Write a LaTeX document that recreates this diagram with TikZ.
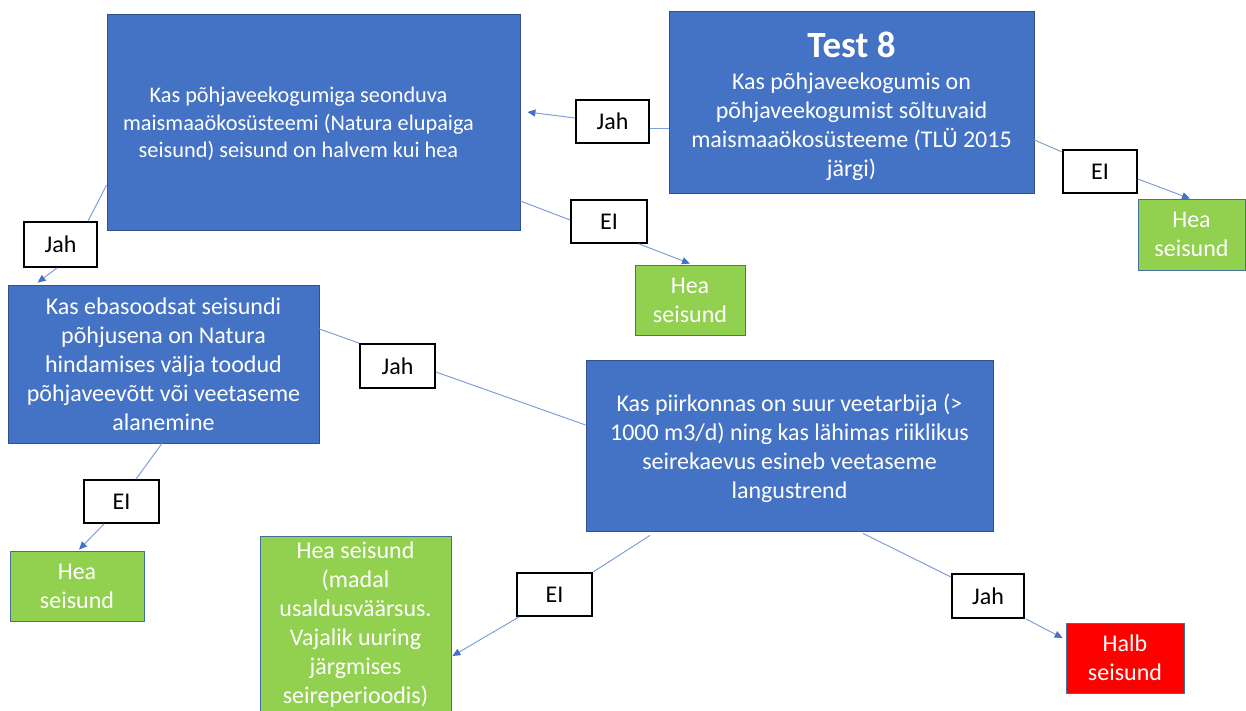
\documentclass[tikz,border=0pt]{standalone}
\usepackage{fontspec}
\setmainfont{Carlito}
\usetikzlibrary{arrows.meta,calc}
\definecolor{boxblue}{HTML}{4472C4}
\definecolor{edgeblue}{HTML}{2F528F}
\definecolor{boxgreen}{HTML}{92D050}
\definecolor{greenedge}{HTML}{41719C}
\definecolor{linkblue}{HTML}{7FA0DA}
\definecolor{tipblue}{HTML}{4472C4}
\tikzset{
  qbox/.style={draw=edgeblue, line width=0.8pt, fill=boxblue, text=white, align=center, inner sep=0pt,
    font=\fontsize{24}{29}\selectfont},
  qtext/.style={text=white, align=center, inner sep=0pt, font=\fontsize{24}{29}\selectfont},
  okbox/.style={draw=greenedge, line width=0.8pt, fill=boxgreen, text=white, align=center, inner sep=0pt,
    font=\fontsize{24}{29}\selectfont},
  badbox/.style={draw=greenedge, line width=0.8pt, fill=red, text=white, align=center, inner sep=0pt,
    font=\fontsize{24}{29}\selectfont},
  answer/.style={draw=black, line width=1.8pt, fill=white, text=black, inner sep=0pt,
    font=\fontsize{24}{29}\selectfont},
  link/.style={draw=linkblue, line width=1pt},
  linkarrow/.style={link, -{Triangle[length=8pt,width=7pt,fill=tipblue,color=tipblue]}},
}
\begin{document}
\begin{tikzpicture}[x=1pt,y=-1pt]
\useasboundingbox (0,0) rectangle (1246,710);
% question boxes
\node[qbox, minimum width=413pt, minimum height=216pt,
  label={[qtext, font=\fontsize{22.3}{27.5}\selectfont, xshift=-15pt, yshift=-2pt]center:Kas põhjaveekogumiga seonduva\\maismaaökosüsteemi (Natura elupaiga\\seisund) seisund on halvem kui hea}] (b1) at (313.5,122) {};
\node[qbox, minimum width=365pt, minimum height=182pt,
  label={[qtext, yshift=-4pt]center:{\fontsize{37}{38}\selectfont\bfseries Test 8}\\[3pt]Kas põhjaveekogumis on\\põhjaveekogumist sõltuvaid\\maismaaökosüsteeme (TLÜ 2015\\järgi)}] (t8) at (851.5,102) {};
\node[qbox, minimum width=311pt, minimum height=158pt] (b2) at (163.5,364)
  {Kas ebasoodsat seisundi\\põhjusena on Natura\\hindamises välja toodud\\põhjaveevõtt või veetaseme\\alanemine};
\node[qbox, minimum width=407pt, minimum height=171pt,
  label={[qtext, yshift=-3pt]center:Kas piirkonnas on suur veetarbija (>\\1000 m3/d) ning kas lähimas riiklikus\\seirekaevus esineb veetaseme\\langustrend}] (b3) at (789.5,445.5) {};
% outcome boxes
\node[okbox, minimum width=107pt, minimum height=71pt] (hea1) at (1191.5,234.5) {Hea\\seisund};
\node[okbox, minimum width=110pt, minimum height=70pt] (hea2) at (690,300) {Hea\\seisund};
\node[okbox, minimum width=134pt, minimum height=70pt] (hea3) at (77,586) {Hea\\seisund};
\node[okbox, minimum width=191pt, minimum height=177pt] (hea4) at (355.5,625)
  {Hea seisund\\(madal\\usaldusväärsus.\\Vajalik uuring\\järgmises\\seireperioodis)};
\node[badbox, minimum width=118pt, minimum height=70pt] (halb) at (1125,658) {Halb\\seisund};
% answer labels
\node[answer, minimum width=73pt, minimum height=43pt] (jah1) at (612.5,121.5) {Jah};
\node[answer, minimum width=74pt, minimum height=43pt] (ei1) at (1100,171.5) {EI};
\node[answer, minimum width=73pt, minimum height=45pt] (jah2) at (60.5,244.5) {Jah};
\node[answer, minimum width=76pt, minimum height=43pt] (ei2) at (609,221.5) {EI};
\node[answer, minimum width=75pt, minimum height=44pt] (jah3) at (397.5,366) {Jah};
\node[answer, minimum width=75pt, minimum height=43pt] (ei3) at (121.5,501.5) {EI};
\node[answer, minimum width=75pt, minimum height=43pt] (ei4) at (554.5,594.5) {EI};
\node[answer, minimum width=72pt, minimum height=44pt] (jah4) at (988,596) {Jah};
% connectors
\draw[link] ($(t8.west)+(0,26)$) -- ($(jah1.east)+(0,6.5)$);
\draw[linkarrow] ($(jah1.west)+(0,-3.5)$) -- ($(b1.east)+(7,-10)$);
\draw[link] ($(t8.east)+(0,38)$) -- ($(ei1.west)+(0,-19.5)$);
\draw[linkarrow] ($(ei1.east)+(0,7.5)$) -- ($(hea1.north)+(-1.5,0)$);
\draw[link] ($(b1.west)+(0,63)$) -- ($(jah2.north)+(27.5,0)$);
\draw[linkarrow] ($(jah2.south)+(-3.5,0)$) -- ($(b2.north west)+(30,-2)$);
\draw[link] ($(b1.east)+(0,79)$) -- ($(ei2.west)+(0,-1.5)$);
\draw[linkarrow] ($(ei2.south)+(30,0)$) -- ($(hea2.north)+(0,-1)$);
\draw[link] ($(b2.east)+(0,-35)$) -- (jah3.north west);
\draw[link] ($(jah3.east)+(0,6)$) -- ($(b3.west)+(0,-20.5)$);
\draw[link] ($(b2.south)+(-1.5,0)$) -- ($(ei3.north)+(14.5,0)$);
\draw[linkarrow] ($(ei3.south)+(-17.5,0)$) -- ($(hea3.north)+(2,-1)$);
\draw[link] ($(b3.south)+(-139.5,4)$) -- (ei4.north east);
\draw[linkarrow] ($(ei4.south west)+(3,0)$) -- ($(hea4.east)+(1,31)$);
\draw[link] ($(b3.south)+(73.5,2)$) -- ($(jah4.north west)+(0,4)$);
\draw[linkarrow] ($(jah4.south east)+(1,0)$) -- ($(halb.west)+(-3,-20)$);
\end{tikzpicture}
\end{document}
